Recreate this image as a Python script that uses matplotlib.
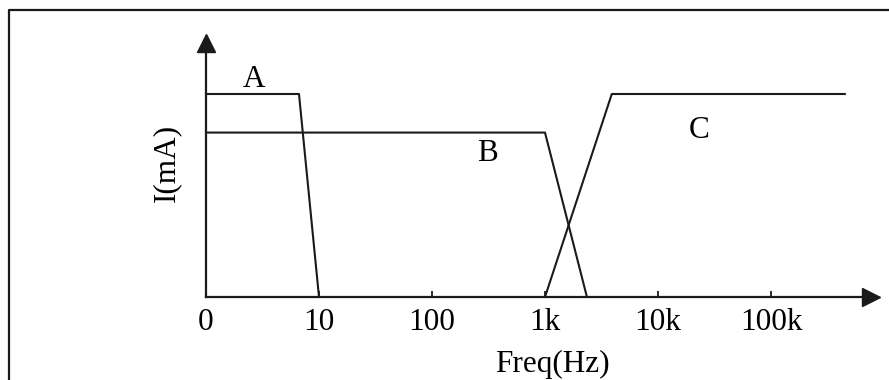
import matplotlib
matplotlib.use("Agg")
import matplotlib.pyplot as plt
from matplotlib.lines import Line2D

plt.rcParams['font.family'] = ['Liberation Serif', 'DejaVu Serif']

# curve data (freq in Hz, current in relative units)
freq_a = [1, 6.65, 10]
amp_a = [1.0, 1.0, 0.0]
freq_b = [1, 1000, 2350]
amp_b = [0.81, 0.81, 0.0]
freq_c = [1000, 3900, 4.5e5]
amp_c = [0.0, 1.0, 1.0]

tick_pos = [1, 10, 100, 1e3, 1e4, 1e5]
tick_lbl = ['0', '10', '100', '1k', '10k', '100k']

curve_names = ['A', 'B', 'C']
name_x = [2.66, 313, 23000]
name_y = [1.069, 0.709, 0.818]

FS = 22.5
W, H = 889, 380
fig = plt.figure(figsize=(W / 100, H / 100), dpi=100)

# axes box in pixels
x0, x1 = 206, 870.5
y0, y1 = 297, 42.5
ax = fig.add_axes([x0 / W, (H - y0) / H, (x1 - x0) / W, (y0 - y1) / H])
ax.set_xscale('log')
ax.set_xlim(1, 10 ** ((x1 - x0) / 113.0))
ax.set_ylim(0, (y0 - y1) / 203.0)

for f, a in [(freq_a, amp_a), (freq_b, amp_b), (freq_c, amp_c)]:
    ax.plot(f, a, color='#1a1a1a', lw=1.5, clip_on=False)

for name, x, y in zip(curve_names, name_x, name_y):
    ax.text(x, y, name, fontsize=FS, ha='center', va='center')

# axes with arrows
for s in ['top', 'right']:
    ax.spines[s].set_visible(False)
for s in ['left', 'bottom']:
    ax.spines[s].set_linewidth(1.6)
    ax.spines[s].set_color('#1a1a1a')
ax.plot(1, 0, '>', color='#1a1a1a', ms=12.5, transform=ax.transAxes, clip_on=False)
ax.plot(0, 1, '^', color='#1a1a1a', ms=12.5, transform=ax.transAxes, clip_on=False)

ax.set_xticks(tick_pos)
ax.set_xticklabels(tick_lbl)
ax.xaxis.set_minor_locator(matplotlib.ticker.NullLocator())
ax.tick_params(axis='x', direction='in', length=4.5, width=1.3, color='#1a1a1a',
               labelsize=FS, pad=8)
ax.set_yticks([])

ax.set_xlabel('Freq(Hz)', fontsize=FS)
ax.xaxis.set_label_coords((552 - x0) / (x1 - x0), -(364 - y0) / (y0 - y1))
ax.xaxis.label.set_va('center')
ax.set_ylabel('I(mA)', fontsize=FS)
ax.yaxis.set_label_coords(-(x0 - 167) / (x1 - x0), (y0 - 163) / (y0 - y1))
ax.yaxis.label.set_va('center')

# outer frame (left and top edges only)
fig.add_artist(Line2D([9 / W, 9 / W, 1.0], [0.0, 1 - 10 / H, 1 - 10 / H],
                      transform=fig.transFigure, color='#1a1a1a', lw=1.6))

fig.savefig('out.png', dpi=100)
